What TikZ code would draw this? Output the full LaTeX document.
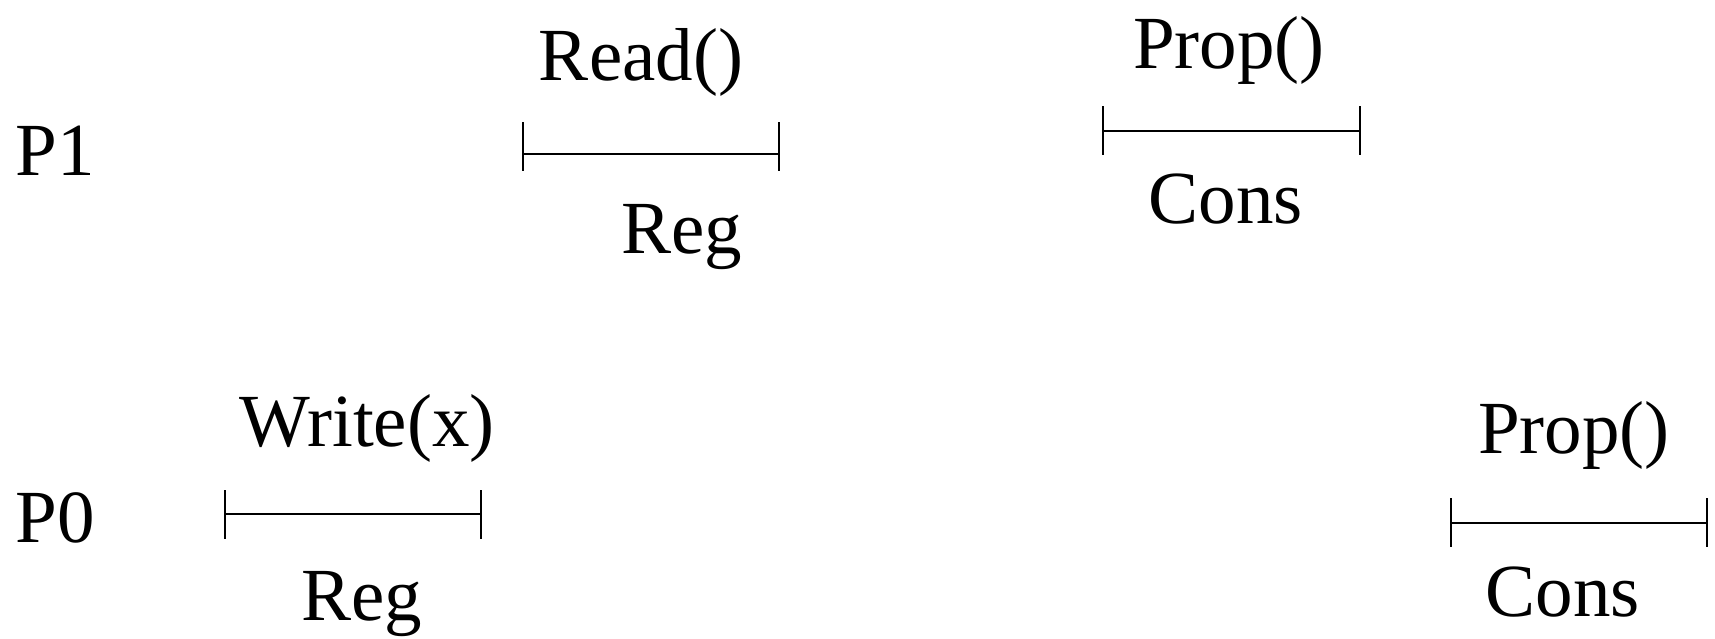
\documentclass[tikz,border=0pt]{standalone}
\usepackage{fontspec}
\setmainfont{Liberation Serif}
\tikzset{
  lbl/.style={anchor=base, inner sep=0pt, font=\fontsize{37.5}{40}\selectfont},
  proc/.style={anchor=base west, inner sep=0pt, font=\fontsize{37.5}{40}\selectfont},
  span/.style={line width=1pt},
  tick/.style={line width=0.9pt}
}
\begin{document}
\begin{tikzpicture}[x=0.5pt,y=-0.5pt]
\useasboundingbox (0,0) rectangle (1715,638);
% process labels
\node[proc] (p1) at (15,175) {P1};
\node[proc] (p0) at (15,542) {P0};
% interval endpoints
\coordinate (a1) at (523,154); \coordinate (a2) at (779,154);
\coordinate (b1) at (1103,131); \coordinate (b2) at (1360,131);
\coordinate (c1) at (225,514); \coordinate (c2) at (481,514);
\coordinate (d1) at (1451,523); \coordinate (d2) at (1707,523);
% intervals
\draw[span] (a1) -- (a2);
\draw[tick] ([yshift=16pt]a1) -- ([yshift=-8.5pt]a1);
\draw[tick] ([yshift=16pt]a2) -- ([yshift=-8.5pt]a2);
\draw[span] (b1) -- (b2);
\draw[tick] ([yshift=12.5pt]b1) -- ([yshift=-12pt]b1);
\draw[tick] ([yshift=12.5pt]b2) -- ([yshift=-12pt]b2);
\draw[span] (c1) -- (c2);
\draw[tick] ([yshift=12pt]c1) -- ([yshift=-12.5pt]c1);
\draw[tick] ([yshift=12pt]c2) -- ([yshift=-12.5pt]c2);
\draw[span] (d1) -- (d2);
\draw[tick] ([yshift=12.5pt]d1) -- ([yshift=-12pt]d1);
\draw[tick] ([yshift=12.5pt]d2) -- ([yshift=-12pt]d2);
% labels
\node[lbl] (read) at (641,80) {Read()};
\node[lbl] (reg1) at (682,253) {Reg};
\node[lbl] (prop1) at (1229,68) {Prop()};
\node[lbl] (cons1) at (1226,223) {Cons};
\node[lbl] (write) at (367,446) {Write(x)};
\node[lbl] (reg0) at (362,620) {Reg};
\node[lbl] (prop0) at (1574,453) {Prop()};
\node[lbl] (cons0) at (1563,616) {Cons};
\end{tikzpicture}
\end{document}
